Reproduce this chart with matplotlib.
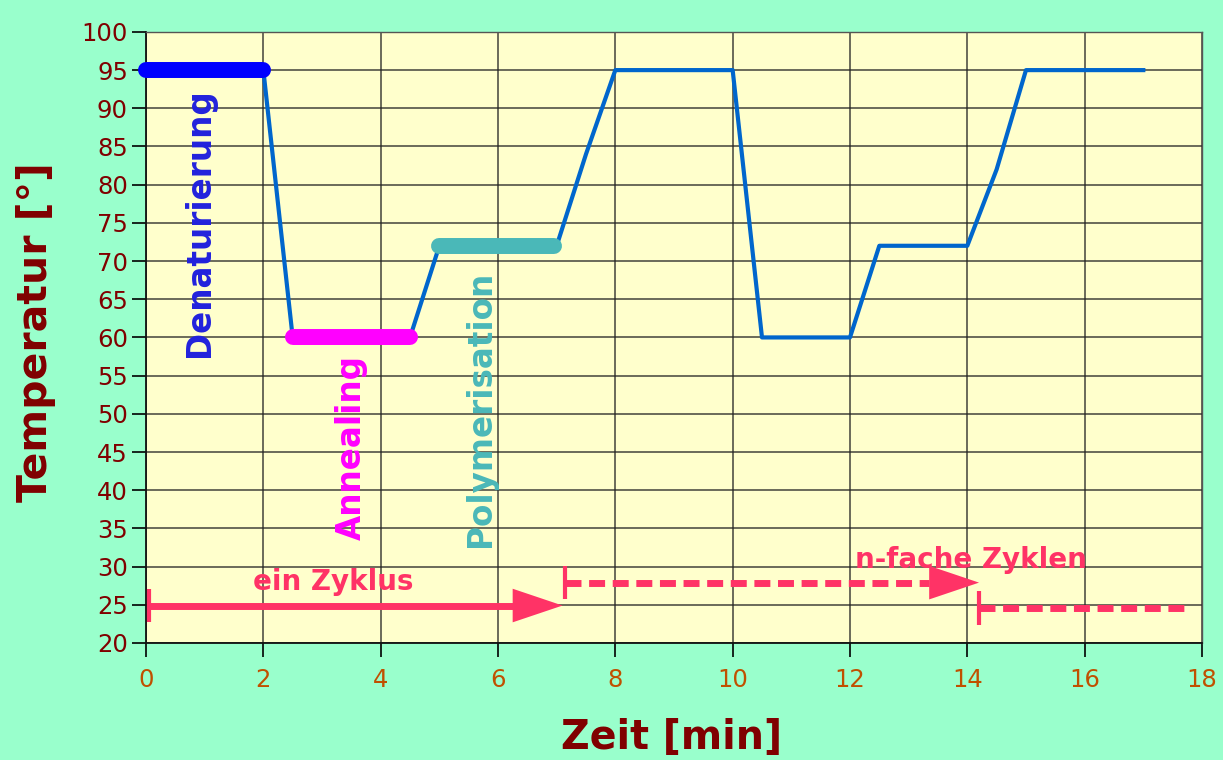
import numpy as np
import matplotlib.pyplot as plt

plt.rcParams.update({"font.family": "DejaVu Sans"})

# temperature profile of the PCR cycle
time = [0, 2, 2.5, 4.5, 5, 7, 7.5, 8, 10, 10.5, 12, 12.5, 14, 14.5, 15, 17]
temp = [95, 95, 60, 60, 72, 72, 84, 95, 95, 60, 60, 72, 72, 82, 95, 95]

# highlighted phases of the first cycle
phases = ["Denaturierung", "Annealing", "Polymerisation"]
phase_start = [0, 2.5, 5]
phase_end = [2, 4.5, 6.95]
phase_temp = [95, 60, 72]
phase_colors = ["#0000ff", "#ff00ff", "#4ab8b8"]
phase_text_colors = ["#2222dd", "#ff00ff", "#4ab8b8"]

# cycle arrows: start, end, height
arrow_labels = ["ein Zyklus", "n-fache Zyklen", ""]
arrow_start = [0.05, 7.15, 14.2]
arrow_end = [7.1, 14.2, 17.8]
arrow_y = [24.9, 27.9, 24.6]

pink = "#ff3366"

fig = plt.figure(figsize=(12.23, 7.6), dpi=100, facecolor="#99ffcc")
ax = fig.add_axes([0.1194, 0.154, 0.8634, 0.804])
ax.set_facecolor("#ffffcc")

ax.plot(time, temp, color="#0066cc", lw=3, zorder=3)

for name, x0, x1, t, c in zip(phases, phase_start, phase_end, phase_temp, phase_colors):
    ax.plot([x0, x1], [t, t], color=c, lw=11.5, solid_capstyle="round",
            zorder=4, clip_on=False)

ax.text(0.92, 75, phases[0], rotation=90, ha="center", va="center",
        fontsize=23.5, fontweight="bold", color=phase_text_colors[0], zorder=5)
ax.text(3.5, 45.6, phases[1], rotation=90, ha="center", va="center",
        fontsize=23.5, fontweight="bold", color=phase_text_colors[1], zorder=5)
ax.text(5.7, 50.7, phases[2], rotation=90, ha="center", va="center",
        fontsize=23.5, fontweight="bold", color=phase_text_colors[2], zorder=5)

# arrows
head_len = 0.85
head_h = 2.2
for i, (x0, x1, y) in enumerate(zip(arrow_start, arrow_end, arrow_y)):
    ls = "-" if i == 0 else (0, (2.3, 1.1))
    has_head = i < 2
    xe = x1 - head_len if has_head else x1
    ax.plot([x0, xe], [y, y], color=pink, lw=5, linestyle=ls,
            solid_capstyle="butt", dash_capstyle="butt", zorder=5)
    ax.plot([x0, x0], [y - head_h, y + head_h], color=pink, lw=3,
            solid_capstyle="butt", zorder=5)
    if has_head:
        ax.fill([x1 - head_len, x1, x1 - head_len],
                [y - head_h, y, y + head_h], color=pink, lw=0, zorder=5)

ax.text(3.2, 28.0, arrow_labels[0], ha="center", va="center",
        fontsize=20, fontweight="bold", color=pink, zorder=6)
ax.text(14.07, 30.9, arrow_labels[1], ha="center", va="center",
        fontsize=20, fontweight="bold", color=pink, zorder=6)

ax.set_xlim(0, 18)
ax.set_ylim(20, 100)
ax.set_xticks(np.arange(0, 19, 2))
ax.set_yticks(np.arange(20, 101, 5))
ax.grid(True, color="#222222", lw=1.1, alpha=0.85)
ax.set_axisbelow(True)

ax.tick_params(axis="y", labelsize=17.5, labelcolor="#800000", length=10,
               width=1.2, direction="out", pad=3)
ax.tick_params(axis="x", labelsize=17.5, labelcolor="#c05000", length=10,
               width=1.2, direction="out", pad=8)
for side in ["left", "bottom"]:
    ax.spines[side].set_color("#111111")
    ax.spines[side].set_linewidth(1.3)
for side in ["right", "top"]:
    ax.spines[side].set_color("#555555")
    ax.spines[side].set_linewidth(1.0)

fig.text(0.0295, 0.563, "Temperatur [°]", rotation=90, ha="center", va="center",
         fontsize=29.5, fontweight="bold", color="#800000")
fig.text(0.549, 0.029, "Zeit [min]", ha="center", va="center",
         fontsize=28.5, fontweight="bold", color="#800000")

fig.savefig("out.png", dpi=100, facecolor=fig.get_facecolor())
